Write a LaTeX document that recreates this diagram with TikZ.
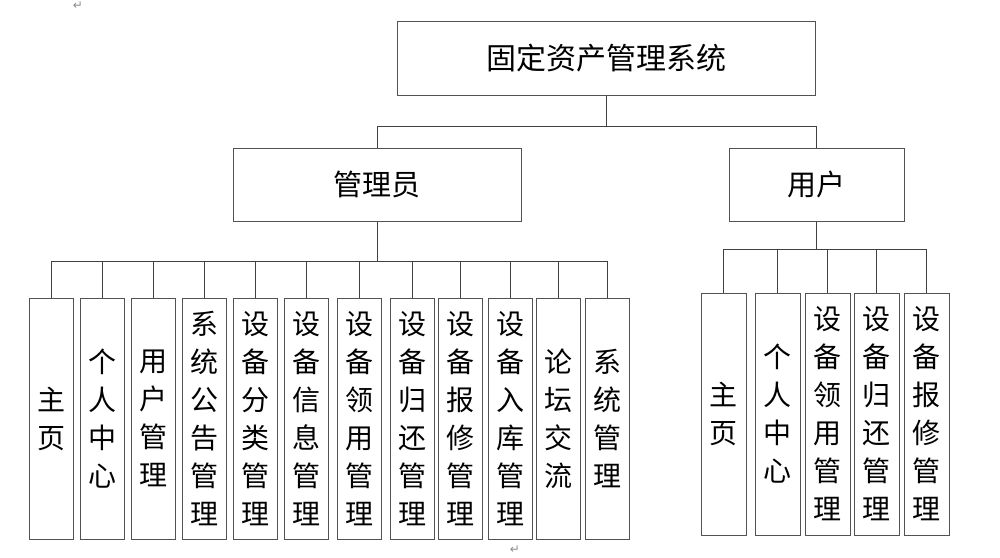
\documentclass[tikz,border=0pt]{standalone}
\usepackage{fontspec}
\newfontfamily\cjk{Noto Sans CJK SC}
\newfontfamily\dejavu{DejaVu Sans}
\begin{document}
\begin{tikzpicture}[x=1pt,y=-1pt,
  box/.style={draw=black!68, line width=1pt, rectangle, inner sep=0pt, align=center,
    font=\cjk\fontsize{29}{38}\selectfont},
  leaf/.style={box, minimum width=44pt, minimum height=241pt, font=\cjk\fontsize{28}{38}\selectfont},
  conn/.style={draw=black!75, line width=1pt},
  pmark/.style={text=black!45, font=\dejavu\fontsize{12}{12}\selectfont, inner sep=0pt}]
\useasboundingbox (0,0) rectangle (1000,557);
\node[pmark] (m1) at (78,5.5) {↵};
\node[pmark] (m2) at (515,550) {↵};
\node[box, minimum width=418pt, minimum height=74pt, font=\cjk\fontsize{30}{36}\selectfont] (root) at (606,58) {固定资产管理系统};
\node[box, minimum width=288pt, minimum height=73pt] (admin) at (377,184.5) {管理员};
\node[box, minimum width=175pt, minimum height=73pt] (user) at (816.5,184.5) {用户};
% admin leaves
\node[leaf] (a1) at (51,418.5) {主\\页};
\node[leaf] (a2) at (102,418.5) {个\\人\\中\\心};
\node[leaf] (a3) at (153,418.5) {用\\户\\管\\理};
\node[leaf] (a4) at (204,418.5) {系\\统\\公\\告\\管\\理};
\node[leaf] (a5) at (255,418.5) {设\\备\\分\\类\\管\\理};
\node[leaf] (a6) at (306,418.5) {设\\备\\信\\息\\管\\理};
\node[leaf] (a7) at (359,418.5) {设\\备\\领\\用\\管\\理};
\node[leaf] (a8) at (412,418.5) {设\\备\\归\\还\\管\\理};
\node[leaf] (a9) at (460.5,418.5) {设\\备\\报\\修\\管\\理};
\node[leaf] (a10) at (510,418.5) {设\\备\\入\\库\\管\\理};
\node[leaf] (a11) at (558,418.5) {论\\坛\\交\\流};
\node[leaf] (a12) at (607,418.5) {系\\统\\管\\理};
% user leaves
\node[leaf, minimum width=45pt, minimum height=242pt] (u1) at (723.5,414) {主\\页};
\node[leaf, minimum width=45pt, minimum height=242pt] (u2) at (777.5,414) {个\\人\\中\\心};
\node[leaf, minimum width=45pt, minimum height=242pt] (u3) at (827.5,414) {设\\备\\领\\用\\管\\理};
\node[leaf, minimum width=45pt, minimum height=242pt] (u4) at (876.5,414) {设\\备\\归\\还\\管\\理};
\node[leaf, minimum width=45pt, minimum height=242pt] (u5) at (926.5,414) {设\\备\\报\\修\\管\\理};
% connectors
\coordinate (j1) at (606,126);
\coordinate (j2) at (377,261);
\coordinate (j3) at (816.5,249);
\draw[conn] (root.south) -- (j1);
\draw[conn] (admin.north) -- (admin.north |- j1) -- (user.north |- j1) -- (user.north);
\draw[conn] (admin.south) -- (j2);
\draw[conn] (a1.north |- j2) -- (a12.north |- j2);
\foreach \i in {1,...,12} { \draw[conn] (a\i.north) -- (a\i.north |- j2); }
\draw[conn] (user.south) -- (j3);
\draw[conn] (u1.north |- j3) -- (u5.north |- j3);
\foreach \i in {1,...,5} { \draw[conn] (u\i.north) -- (u\i.north |- j3); }
\end{tikzpicture}
\end{document}
